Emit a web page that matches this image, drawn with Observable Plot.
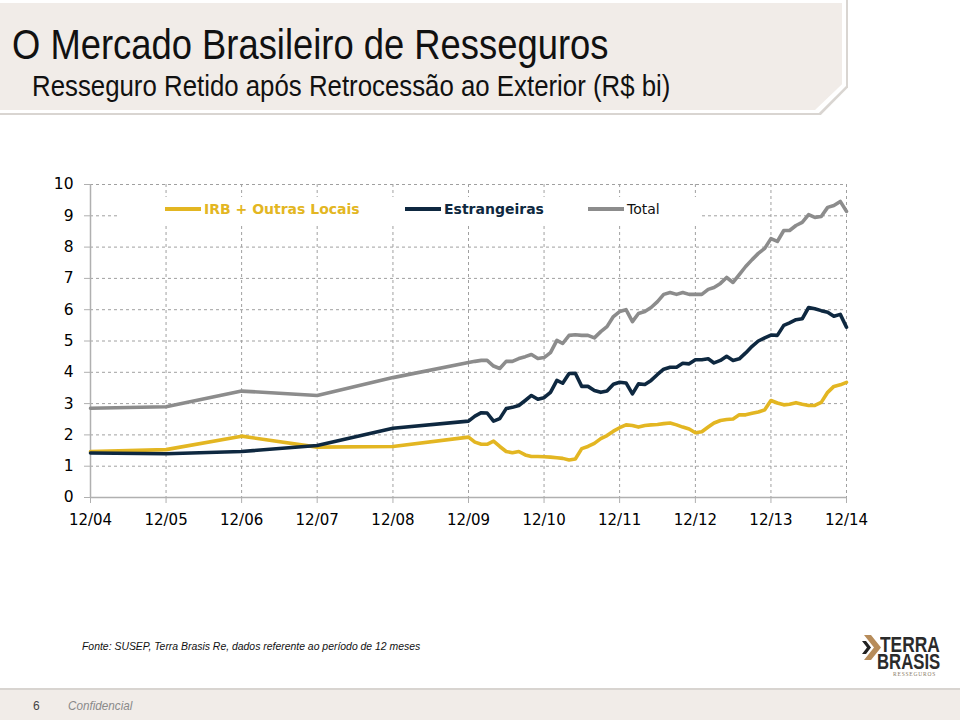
<!DOCTYPE html>
<html>
<head>
<meta charset="utf-8">
<script src="https://cdn.jsdelivr.net/npm/d3@7"></script>
<script src="https://cdn.jsdelivr.net/npm/@observablehq/plot@0.6"></script>
<style>
  body { margin:0; background:#fff; }
  #page { position:relative; width:960px; height:720px; overflow:hidden; background:#fff; font-family:"Liberation Sans",Arial,sans-serif; }
  .hdr { position:absolute; clip-path: polygon(0 0, 100% 0, 100% 76%, 96.8% 100%, 0 100%); }
  #title { position:absolute; left:12px; top:20px; font-size:43px; color:#111; white-space:nowrap; transform:scaleX(0.846); transform-origin:0 0; }
  #subtitle { position:absolute; left:32px; top:70px; font-size:29px; color:#111; white-space:nowrap; transform:scaleX(0.89); transform-origin:0 0; }
  #chart { position:absolute; left:0; top:170px; }
  #legend { position:absolute; left:118px; top:197px; width:582px; height:27px; background:#fff; font-family:"DejaVu Sans",Verdana,sans-serif; font-size:14px; font-weight:bold; }
  .item { position:absolute; top:4px; white-space:nowrap; }
  .sw { display:inline-block; width:36px; height:4px; vertical-align:middle; margin-right:3px; position:relative; top:-1px; }
  #source { position:absolute; left:82px; top:640px; font-size:11.5px; font-style:italic; color:#111; white-space:nowrap; transform:scaleX(0.906); transform-origin:0 0; }
  #foot { position:absolute; left:0; top:688px; width:960px; height:32px; background:#f1ece8; border-top:2px solid #d8d4d0; }
  #pnum { position:absolute; left:33px; top:9px; font-size:12px; color:#444; }
  #conf { position:absolute; left:68px; top:8px; font-size:13px; font-style:italic; color:#8a8a8a; transform:scaleX(0.9); transform-origin:0 0; white-space:nowrap; }
  .logo { position:absolute; font-weight:bold; color:#2b2b2b; white-space:nowrap; transform-origin:0 0; }
</style>
</head>
<body>
<div id="page">
  <div class="hdr" style="left:0;top:0;width:848px;height:115px;background:#d9d5d1;"></div>
  <div class="hdr" style="left:0;top:0;width:846px;height:113px;background:#ffffff;"></div>
  <div class="hdr" style="left:0;top:3px;width:842px;height:107px;background:#f1ece8;"></div>
  <div id="title">O Mercado Brasileiro de Resseguros</div>
  <div id="subtitle">Resseguro Retido após Retrocessão ao Exterior (R$ bi)</div>
  <div id="chart"></div>
  <div id="legend"></div>
  <div id="source">Fonte: SUSEP, Terra Brasis Re, dados referente ao período de 12 meses</div>
  <svg style="position:absolute;left:860px;top:632px" width="22" height="32" viewBox="0 0 22 32">
    <path d="M4 3 L11 3 L21 15.5 L11 28 L4 28 L14 15.5 Z" fill="#b78c5a"/>
    <path d="M2 9 L6 9 L11 15.5 L6 22 L2 22 L7 15.5 Z" fill="#222"/>
  </svg>
  <div class="logo" style="left:880px;top:636px;font-size:22px;line-height:17px;transform:scaleX(0.79);">TERRA</div>
  <div class="logo" style="left:877px;top:653px;font-size:22px;line-height:17px;transform:scaleX(0.76);">BRASIS</div>
  <div class="logo" style="left:893px;top:671px;font-size:5.5px;line-height:6px;font-weight:normal;color:#8a7a66;font-family:'Liberation Serif',serif;letter-spacing:0.8px;">RESSEGUROS</div>
  <div id="foot"><span id="pnum">6</span><span id="conf">Confidencial</span></div>
</div>
<script>
// ---- data ----
const periods = [
  "2004-12","2005-12","2006-12","2007-12","2008-12",
  "2009-12",
  "2010-01","2010-02","2010-03","2010-04","2010-05","2010-06","2010-07","2010-08","2010-09","2010-10","2010-11","2010-12",
  "2011-01","2011-02","2011-03","2011-04","2011-05","2011-06","2011-07","2011-08","2011-09","2011-10","2011-11","2011-12",
  "2012-01","2012-02","2012-03","2012-04","2012-05","2012-06","2012-07","2012-08","2012-09","2012-10","2012-11","2012-12",
  "2013-01","2013-02","2013-03","2013-04","2013-05","2013-06","2013-07","2013-08","2013-09","2013-10","2013-11","2013-12",
  "2014-01","2014-02","2014-03","2014-04","2014-05","2014-06","2014-07","2014-08","2014-09","2014-10","2014-11","2014-12"
];
const irbLocais = [
  1.47,1.53,1.96,1.61,1.63,
  1.93,1.77,1.70,1.70,1.80,1.63,1.47,1.43,1.47,1.36,1.31,1.31,1.30,1.29,1.27,1.25,1.20,1.23,1.56,1.63,1.73,1.88,1.98,2.12,2.23,
  2.32,2.30,2.25,2.30,2.32,2.33,2.36,2.38,2.32,2.25,2.19,2.07,2.10,2.25,2.38,2.46,2.49,2.51,2.64,2.64,2.69,2.73,2.80,3.10,
  3.02,2.96,2.98,3.03,2.98,2.94,2.94,3.04,3.36,3.55,3.60,3.68
];
const estrangeiras = [
  1.42,1.40,1.47,1.66,2.21,
  2.44,2.60,2.71,2.70,2.44,2.52,2.84,2.88,2.94,3.10,3.26,3.14,3.19,3.36,3.74,3.65,3.96,3.97,3.55,3.55,3.42,3.36,3.40,3.62,3.68,
  3.66,3.31,3.63,3.61,3.74,3.93,4.10,4.16,4.16,4.29,4.27,4.40,4.40,4.43,4.30,4.38,4.51,4.38,4.43,4.62,4.83,5.00,5.10,5.19,
  5.18,5.50,5.58,5.68,5.71,6.07,6.03,5.97,5.92,5.79,5.85,5.44
];
const total = [
  2.85,2.90,3.40,3.26,3.83,
  4.31,4.35,4.38,4.38,4.20,4.12,4.35,4.35,4.44,4.50,4.57,4.44,4.47,4.63,5.02,4.92,5.18,5.20,5.18,5.18,5.10,5.30,5.46,5.78,5.94,
  6.00,5.62,5.88,5.94,6.07,6.26,6.49,6.55,6.49,6.55,6.49,6.49,6.49,6.65,6.71,6.84,7.03,6.87,7.12,7.38,7.60,7.80,7.96,8.27,
  8.18,8.53,8.53,8.69,8.79,9.04,8.95,8.98,9.27,9.33,9.46,9.14
];
const seriesNames = ["IRB + Outras Locais","Estrangeiras","Total"];
const seriesColors = ["#e3b622","#0e2840","#8c8c8c"];
const xTickPeriods = ["2004-12","2005-12","2006-12","2007-12","2008-12","2009-12","2010-12","2011-12","2012-12","2013-12","2014-12"];
const xTickLabels = ["12/04","12/05","12/06","12/07","12/08","12/09","12/10","12/11","12/12","12/13","12/14"];
const yTicks = [0,1,2,3,4,5,6,7,8,9,10];

// ---- build table ----
const parse = s => new Date(s + "-01T00:00:00Z");
const values = [irbLocais, estrangeiras, total];
const rows = [];
seriesNames.forEach((name, k) => {
  periods.forEach((p, i) => rows.push({date: parse(p), value: values[k][i], series: name}));
});
const xTicks = xTickPeriods.map(parse);
const labelFor = d => xTickLabels[xTicks.findIndex(t => +t === +d)];

const chart = Plot.plot({
  width: 870, height: 370,
  marginLeft: 90, marginRight: 24, marginTop: 14, marginBottom: 43,
  style: {fontFamily: "DejaVu Sans, Verdana, sans-serif", fontSize: "15px", color: "#000", background: "transparent"},
  x: {type: "utc", domain: [xTicks[0], xTicks[xTicks.length - 1]]},
  y: {domain: [0, 10]},
  color: {domain: seriesNames, range: seriesColors},
  marks: [
    Plot.gridY(yTicks.slice(1), {stroke: "#a0a0a0", strokeOpacity: 1, strokeDasharray: "3,3", strokeWidth: 1}),
    Plot.gridX(xTicks.slice(1), {stroke: "#a0a0a0", strokeOpacity: 1, strokeDasharray: "3,3", strokeWidth: 1}),
    Plot.axisY(yTicks, {tickSize: 6, tickPadding: 11, stroke: "#b0b0b0", fill: "#000", fontSize: 15.5, label: null}),
    Plot.axisX(xTicks, {tickSize: 6, tickPadding: 11, stroke: "#b0b0b0", fill: "#000", fontSize: 15, tickFormat: labelFor, label: null}),
    Plot.ruleY([0], {stroke: "#b0b0b0", strokeWidth: 1.5}),
    Plot.ruleX([xTicks[0]], {stroke: "#b0b0b0", strokeWidth: 1.5}),
    Plot.line(rows, {x: "date", y: "value", z: "series", stroke: "series", strokeWidth: 3.6, strokeLinejoin: "round", strokeLinecap: "round"})
  ]
});
document.getElementById("chart").appendChild(chart);

// ---- legend ----
const legend = document.getElementById("legend");
const legendPos = [47, 287, 470];
const legendText = ["#e3b622", "#0e2840", "#111"];
const legendWeight = ["bold", "bold", "normal"];
seriesNames.forEach((name, k) => {
  const it = document.createElement("div");
  it.className = "item";
  it.style.left = legendPos[k] + "px";
  it.style.color = legendText[k];
  it.style.fontWeight = legendWeight[k];
  const sw = document.createElement("span");
  sw.className = "sw";
  sw.style.background = seriesColors[k];
  it.appendChild(sw);
  it.appendChild(document.createTextNode(name));
  legend.appendChild(it);
});
</script>
</body>
</html>
